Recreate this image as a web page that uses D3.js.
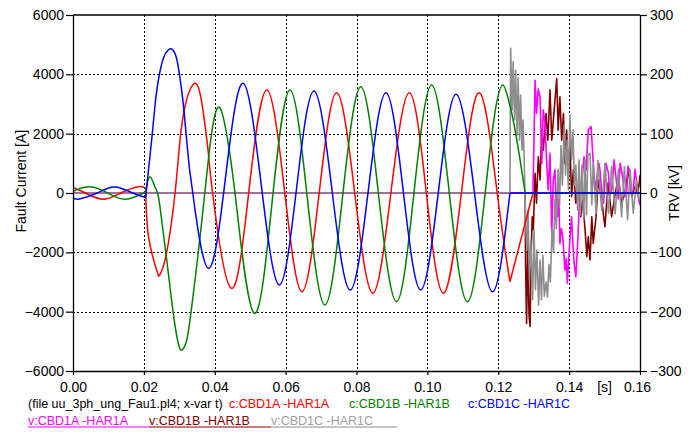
<!DOCTYPE html>
<html><head><meta charset="utf-8">
<script src="https://cdn.jsdelivr.net/npm/d3@7"></script>
<style>
body{margin:0;background:#fff;}
svg{display:block;font-family:"Liberation Sans",Arial,sans-serif;}
</style></head><body>
<svg id="chart" width="696" height="432"></svg>
<script>
// ---------------- data (t in s, currents in A, voltages in kV) ----------------
const xTicks = [0, 0.02, 0.04, 0.06, 0.08, 0.10, 0.12, 0.14, 0.16];
const currentTicks = [-6000, -4000, -2000, 0, 2000, 4000, 6000];
const trvTicks = [-300, -200, -100, 0, 100, 200, 300];

// null separates drawing segments (pre-fault / fault / after interruption)
const currentA = [
  [0,185],[0.0035,0],[0.0085,-210],[0.0135,0],[0.0185,210],[0.0205,160], null,
  [0.0205,160],[0.0213,-1470],[0.0236,-2600],[0.0245,-2760],[0.0264,-2020],[0.0288,0],[0.0302,1786],
  [0.0316,2909],[0.0330,3470],[0.0344,3697],[0.0356,3470],[0.0368,2686],[0.0382,1336],[0.0394,0],
  [0.0446,-3210],[0.0497,130],[0.0547,3470],[0.0597,70],[0.0646,-3330],[0.0695,30],[0.0744,3380],
  [0.0795,0],[0.0846,-3380],[0.0897,0],[0.0949,3380],[0.0997,0],[0.1045,-3380],[0.1096,0],
  [0.1147,3380],[0.1197,0],[0.1233,-2990], null,
  [0.1233,-2990],[0.1298,0], null,
  [0.1298,0],[0.16,0]
];
const currentB = [
  [0,60],[0.0048,210],[0.0098,0],[0.0148,-210],[0.0198,0],[0.0205,60], null,
  [0.0205,60],[0.0217,550],[0.0231,212],[0.0241,-124],[0.0255,-1360],[0.0269,-2700],[0.0283,-4055],
  [0.0297,-5065],[0.0308,-5290],[0.0321,-4955],[0.0335,-3830],[0.0363,-1000],[0.0391,2000],
  [0.0415,2860],[0.0438,1675],[0.0463,-600],[0.0512,-4055],[0.0562,-290],[0.0612,3470],[0.0661,-150],
  [0.0711,-3775],[0.0761,-95],[0.0812,3583],[0.0862,-40],[0.0913,-3663],[0.0962,-10],[0.1012,3640],
  [0.1062,-10],[0.1113,-3663],[0.1163,-10], null,
  [0.1163,-10],[0.1213,3640],[0.1233,2950],[0.1276,0], null,
  [0.1276,0],[0.16,0]
];
const currentC = [
  [0,-165],[0.0018,-200],[0.0068,0],[0.0118,200],[0.0168,0],[0.0205,-150], null,
  [0.0205,-150],[0.0213,775],[0.0222,1786],[0.0231,2909],[0.0241,3809],[0.0255,4540],[0.0269,4820],
  [0.0280,4843],[0.0291,4594],[0.0300,4034],[0.0310,3134],[0.0319,2012],[0.0328,887],[0.0338,0],
  [0.0382,-2540],[0.0431,580],[0.0480,3700],[0.0531,300],[0.0582,-3100],[0.0631,170],[0.0680,3440],
  [0.0731,85],[0.0782,-3270],[0.0833,55],[0.0883,3380],[0.0932,55],[0.0981,-3270],[0.1031,30],
  [0.1081,3330],[0.1133,0],[0.1184,-3330],[0.1233,0], null,
  [0.1233,0],[0.16,0]
];

const voltageA = [
  [0,0],[0.1298,0],[0.1304,190],[0.1308,134],[0.1313,175],[0.1318,162],[0.1323,50],[0.1327,140],
  [0.1332,117],[0.1336,60],[0.1341,5],[0.1346,67],[0.1351,-68],[0.1355,20],[0.1360,39],[0.1364,-20],
  [0.1367,-40],[0.1371,-10],[0.1374,-85],[0.1378,-60],[0.1382,-74],[0.1385,-100],[0.1388,-130],
  [0.1392,-110],[0.1395,-152],[0.1398,-120],[0.1401,-90],[0.1404,-60],[0.1407,-40],[0.1410,-80],
  [0.1414,-118],[0.1419,-141],[0.1424,-85],[0.1429,-17],[0.1435,11],[0.1442,61],[0.1448,39],
  [0.1454,106],[0.1462,112],[0.1467,61],[0.1473,5],[0.1480,33],[0.1484,50],[0.1487,39],[0.1492,0],
  [0.1497,-17],[0.1504,50],[0.1511,33],[0.1515,-5],[0.1520,5],[0.1527,56],[0.1534,16],[0.1539,-10],
  [0.1544,50],[0.1551,27],[0.1556,-5],[0.1562,-6],[0.1566,45],[0.1570,39],[0.1575,0],[0.1581,5],
  [0.1586,40],[0.1591,16],[0.1596,-10],[0.1600,-20]
];
const voltageB = [
  [0,0],[0.1276,0],[0.1277,-118],[0.1280,-220],[0.1283,-90],[0.1287,-208],[0.1290,-225],[0.1292,-118],
  [0.1296,-40],[0.1299,-62],[0.1304,33],[0.1308,-17],[0.1313,61],[0.1318,22],[0.1323,106],[0.1327,72],
  [0.1335,134],[0.1340,89],[0.1346,174],[0.1351,89],[0.1357,134],[0.1365,193],[0.1369,106],
  [0.1374,162],[0.1379,89],[0.1384,134],[0.1388,50],[0.1393,106],[0.1398,22],[0.1402,89],[0.1407,-6],
  [0.1412,39],[0.1419,-17],[0.1426,11],[0.1433,-40],[0.1438,-12],[0.1445,-62],[0.1450,-107],
  [0.1454,-74],[0.1459,-113],[0.1464,-40],[0.1468,-85],[0.1476,-40],[0.1482,22],[0.1492,-12],
  [0.1501,-57],[0.1510,17],[0.1520,-40],[0.1529,-5],[0.1539,27],[0.1548,-17],[0.1558,0],[0.1567,39],
  [0.1577,-6],[0.1586,11],[0.1593,0],[0.1598,17],[0.1600,30]
];
const voltageC = [
  [0,0],[0.1233,0],[0.1235,244],[0.1239,140],[0.1242,221],[0.1246,123],[0.1249,207],[0.1253,98],
  [0.1256,194],[0.1260,89],[0.1263,165],[0.1267,72],[0.1270,123],[0.1274,39],[0.1277,-46],
  [0.1281,-96],[0.1284,-29],[0.1288,-147],[0.1292,-79],[0.1297,-180],[0.1301,-62],[0.1305,-163],
  [0.1309,-96],[0.1314,-189],[0.1318,-113],[0.1322,-180],[0.1326,-105],[0.1330,-174],[0.1335,-150],
  [0.1339,-175],[0.1343,-120],[0.1347,-150],[0.1352,-60],[0.1356,-100],[0.1360,-10],[0.1364,-60],
  [0.1369,40],[0.1373,-20],[0.1377,80],[0.1381,13],[0.1386,115],[0.1390,30],[0.1394,89],[0.1398,5],
  [0.1402,131],[0.1407,56],[0.1411,106],[0.1415,13],[0.1419,47],[0.1424,-29],[0.1428,56],[0.1432,-37],
  [0.1436,47],[0.1441,-46],[0.1445,56],[0.1449,-37],[0.1453,64],[0.1459,67],[0.1464,-20],[0.1468,50],
  [0.1476,-34],[0.1481,55],[0.1492,-29],[0.1501,50],[0.1511,-34],[0.1520,45],[0.1530,-35],[0.1539,40],
  [0.1548,-40],[0.1556,44],[0.1565,-45],[0.1572,40],[0.1581,-34],[0.1590,22],[0.1597,-12]
];

const legendTitle = "(file uu_3ph_ung_Fau1.pl4; x-var t)";
const currentLabels = ["c:CBD1A -HAR1A", "c:CBD1B -HAR1B", "c:CBD1C -HAR1C"];
const voltageLabels = ["v:CBD1A -HAR1A", "v:CBD1B -HAR1B", "v:CBD1C -HAR1C"];

// ---------------- chart ----------------
const L = 73, R = 640, T = 15, B = 371;
const svg = d3.select("#chart");
const x = d3.scaleLinear().domain([0, 0.16]).range([L, R]);
const yI = d3.scaleLinear().domain([-6000, 6000]).range([B, T]);
const yV = d3.scaleLinear().domain([-300, 300]).range([B, T]);

svg.append("defs").append("clipPath").attr("id", "clip")
  .append("rect").attr("x", L).attr("y", T).attr("width", R - L).attr("height", B - T);

// grid
const grid = svg.append("g").attr("stroke", "#000").attr("stroke-width", 1)
  .attr("stroke-dasharray", "2,2").attr("fill", "none");
xTicks.filter(t => t > 0 && t < 0.16).forEach(t =>
  grid.append("line").attr("x1", Math.round(x(t)) + 0.5).attr("x2", Math.round(x(t)) + 0.5)
    .attr("y1", T).attr("y2", B));
currentTicks.filter(v => v > -6000 && v < 6000).forEach(v =>
  grid.append("line").attr("y1", Math.round(yI(v)) + 0.5).attr("y2", Math.round(yI(v)) + 0.5)
    .attr("x1", L).attr("x2", R));

// data
function segments(arr) {
  const segs = [[]];
  arr.forEach(d => { if (d === null) segs.push([]); else segs[segs.length - 1].push(d); });
  return segs.filter(s => s.length > 1);
}
const plot = svg.append("g").attr("clip-path", "url(#clip)");
const lineV = d3.line().x(d => x(d[0])).y(d => yV(d[1])).curve(d3.curveLinear);
const lineI = d3.line().x(d => x(d[0])).y(d => yI(d[1])).curve(d3.curveNatural);
const lineIShort = d3.line().x(d => x(d[0])).y(d => yI(d[1])).curve(d3.curveMonotoneX);

const vSeries = [
  {data: voltageB, color: "#800000"},
  {data: voltageA, color: "#ff00ff"},
  {data: voltageC, color: "#8e8e8e"}
];
vSeries.forEach(s => plot.append("path").attr("d", lineV(s.data)).attr("fill", "none")
  .attr("stroke", s.color).attr("stroke-width", 1.6).attr("stroke-linejoin", "round"));

const iSeries = [
  {data: currentA, color: "#ff0000"},
  {data: currentB, color: "#008000"},
  {data: currentC, color: "#0000ff"}
];
iSeries.forEach(s => segments(s.data).forEach(seg =>
  plot.append("path").attr("d", (seg.length <= 4 ? lineIShort : lineI)(seg)).attr("fill", "none")
    .attr("stroke", s.color).attr("stroke-width", 1.5).attr("stroke-linejoin", "round")));

// frame
svg.append("line").attr("x1", L).attr("x2", R).attr("y1", T).attr("y2", T)
  .attr("stroke", "#000").attr("stroke-width", 1.3);

// axes
function styleAxis(g) {
  g.selectAll("text").attr("font-size", 14).attr("fill", "#000")
    .attr("font-family", '"Liberation Sans",Arial,sans-serif');
  g.selectAll("line").attr("stroke", "#000").attr("stroke-width", 1.2);
  g.select(".domain").attr("stroke", "#000").attr("stroke-width", 1.3);
}
const axL = svg.append("g").attr("transform", `translate(${L},0)`)
  .call(d3.axisLeft(yI).tickValues(currentTicks).tickSize(7).tickSizeOuter(0).tickPadding(2)
    .tickFormat(d3.format("d")));
styleAxis(axL);
const axR = svg.append("g").attr("transform", `translate(${R},0)`)
  .call(d3.axisRight(yV).tickValues(trvTicks).tickSize(7).tickSizeOuter(0).tickPadding(3)
    .tickFormat(d3.format("d")));
styleAxis(axR);
const axB = svg.append("g").attr("transform", `translate(0,${B})`)
  .call(d3.axisBottom(x).tickValues(xTicks).tickSize(4).tickSizeOuter(0).tickPadding(7)
    .tickFormat(d3.format(".2f")));
styleAxis(axB);
axB.selectAll(".tick text").filter(d => d === 0.16).attr("dx", -3);

svg.append("text").attr("x", x(0.1500)).attr("y", B + 11).attr("dy", "0.71em")
  .attr("text-anchor", "middle").attr("font-size", 14).text("[s]");

svg.append("text").attr("transform", `translate(26,${yI(400)}) rotate(-90)`)
  .attr("text-anchor", "middle").attr("font-size", 14).text("Fault Current [A]");
svg.append("text").attr("transform", `translate(679,${yV(0)}) rotate(-90)`)
  .attr("text-anchor", "middle").attr("font-size", 14).text("TRV [kV]");

// legend
const leg = svg.append("g").attr("font-size", 12.5);
leg.append("text").attr("x", 28).attr("y", 407.5).attr("fill", "#000").text(legendTitle);
const row1X = [229, 349, 468];
currentLabels.forEach((t, i) => leg.append("text").attr("x", row1X[i]).attr("y", 407.5)
  .attr("fill", iSeries[i].color).text(t));
const row2X = [28, 149, 271, 397];
const vColors = ["#ff00ff", "#800000", "#8e8e8e"];
const vText = ["#ff00ff", "#800000", "#a0a0a0"];
voltageLabels.forEach((t, i) => {
  leg.append("text").attr("x", row2X[i]).attr("y", 425).attr("fill", vText[i]).text(t);
  leg.append("line").attr("x1", row2X[i]).attr("x2", row2X[i + 1]).attr("y1", 427).attr("y2", 427)
    .attr("stroke", vColors[i]).attr("stroke-width", 1.2);
});
</script>
</body></html>
